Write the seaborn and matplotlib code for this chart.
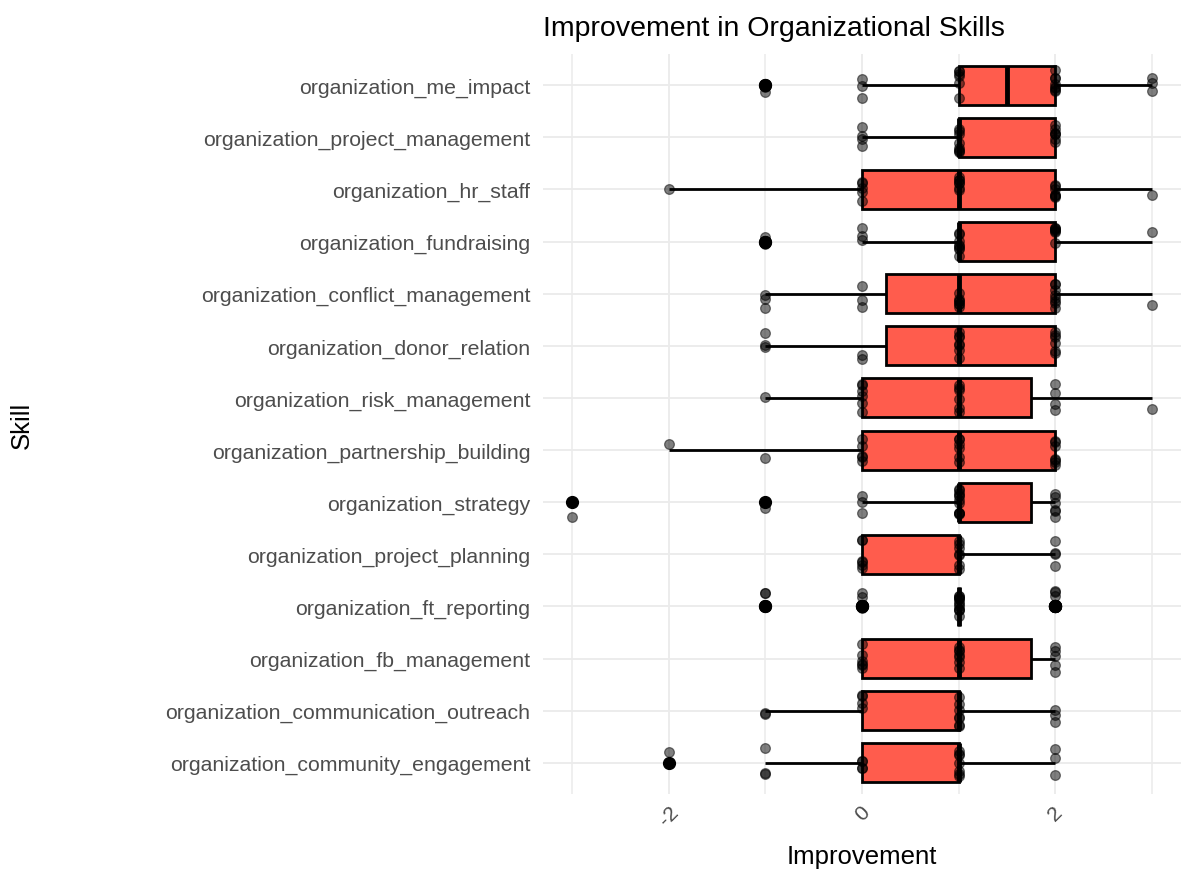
import numpy as np
import pandas as pd
import matplotlib
matplotlib.use("Agg")
import matplotlib.pyplot as plt
import seaborn as sns

# skills, top to bottom as shown
skills = [
    "organization_me_impact",
    "organization_project_management",
    "organization_hr_staff",
    "organization_fundraising",
    "organization_conflict_management",
    "organization_donor_relation",
    "organization_risk_management",
    "organization_partnership_building",
    "organization_strategy",
    "organization_project_planning",
    "organization_ft_reporting",
    "organization_fb_management",
    "organization_communication_outreach",
    "organization_community_engagement",
]

# improvement scores and how many respondents gave each score, per skill
scores = [-3, -2, -1, 0, 1, 2, 3]
counts = [
    [0, 0, 2, 3, 6, 8, 3],
    [0, 0, 0, 4, 8, 7, 0],
    [0, 1, 0, 5, 7, 7, 1],
    [0, 0, 2, 3, 8, 7, 1],
    [0, 0, 3, 3, 7, 8, 1],
    [0, 0, 3, 2, 7, 6, 0],
    [0, 0, 1, 6, 6, 4, 1],
    [0, 1, 1, 5, 6, 7, 0],
    [1, 0, 1, 3, 11, 6, 0],
    [0, 0, 0, 6, 7, 4, 0],
    [0, 0, 2, 3, 12, 5, 0],
    [0, 0, 0, 6, 7, 5, 0],
    [0, 0, 2, 4, 7, 3, 0],
    [0, 1, 3, 4, 7, 3, 0],
]

rows = []
for skill, cnt in zip(skills, counts):
    for s, c in zip(scores, cnt):
        rows += [(skill, s)] * c
df = pd.DataFrame(rows, columns=["Skill", "Improvement"])

sns.set_style("white")
plt.rcParams["font.family"] = ["Liberation Sans", "DejaVu Sans"]

fig, ax = plt.subplots(figsize=(11.87, 8.70), dpi=100)
fig.subplots_adjust(left=543 / 1187, right=1181 / 1187, top=1 - 55 / 870, bottom=1 - 795 / 870)

sns.boxplot(data=df, x="Improvement", y="Skill", order=skills, orient="h",
            width=0.75, color="#FF5C4D", saturation=1, linecolor="black", linewidth=2,
            showcaps=False,
            medianprops=dict(linewidth=3.5),
            flierprops=dict(marker="o", markerfacecolor="black", markeredgecolor="black",
                            markersize=8.5),
            ax=ax, zorder=2)

np.random.seed(3)
sns.stripplot(data=df, x="Improvement", y="Skill", order=skills, orient="h",
              color="black", alpha=0.5, jitter=0.3, size=7, linewidth=0.9,
              edgecolor="black", ax=ax, zorder=3)

ax.set_xlim(-3.30, 3.30)
ax.set_ylim(len(skills) - 0.4, -0.6)
ax.set_xticks([-2, 0, 2])
ax.set_xticklabels(["-2", "0", "2"], rotation=45, ha="center")
ax.set_xticks([-3, -1, 1, 3], minor=True)

ax.grid(True, which="major", color="#EBEBEB", linewidth=1.3, zorder=0)
ax.grid(True, which="minor", axis="x", color="#EBEBEB", linewidth=1.1, zorder=0)
ax.set_axisbelow(True)
for sp in ax.spines.values():
    sp.set_visible(False)

ax.tick_params(axis="both", which="both", length=0, labelsize=15.3, labelcolor="#4D4D4D")
ax.tick_params(axis="y", pad=9)
ax.tick_params(axis="x", pad=6)

ax.set_title("Improvement in Organizational Skills", loc="left", fontsize=20.5, pad=14,
             color="black")
ax.set_xlabel("Improvement", fontsize=18.5, color="black")
ax.set_ylabel("Skill", fontsize=18.5, color="black")
ax.xaxis.label.set_va("center")
ax.yaxis.label.set_va("center")
ax.xaxis.set_label_coords(0.5, (795 - 857) / 740)
ax.yaxis.set_label_coords((22 - 543) / 638, 0.5)

fig.savefig("out.png", dpi=100)
